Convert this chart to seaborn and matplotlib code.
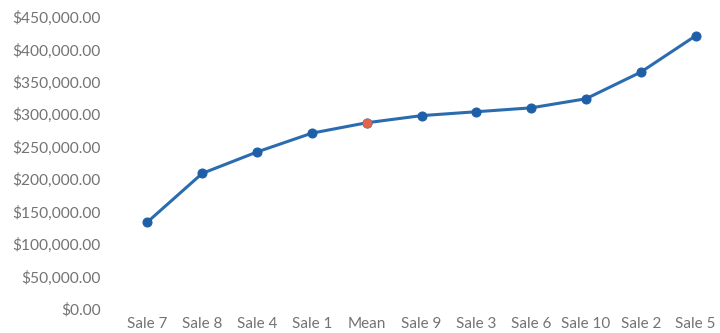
import matplotlib
matplotlib.use("Agg")
import matplotlib.pyplot as plt
import seaborn as sns
import pandas as pd
from matplotlib.ticker import FuncFormatter

labels = ["Sale 7", "Sale 8", "Sale 4", "Sale 1", "Mean", "Sale 9", "Sale 3",
          "Sale 6", "Sale 10", "Sale 2", "Sale 5"]
values = [134000, 209000, 242000, 271000, 287000, 298000, 304000,
          310000, 324000, 365000, 421000]
highlight = ["Mean"]

sns.set_theme(style="white")
plt.rcParams['font.family'] = ['Lato', 'DejaVu Sans']

df = pd.DataFrame({"label": labels, "value": values})
df["pos"] = range(len(df))

fig = plt.figure(figsize=(7.2, 3.33), dpi=100)
ax = fig.add_axes([120/720, (333-309)/333, 603/720, 292/333])

sns.lineplot(data=df, x="pos", y="value", ax=ax, color="#2b6cb0", linewidth=2.2,
             marker="o", markersize=6.5, markerfacecolor="#1f5fa8",
             markeredgecolor="#1f5fa8", sort=False)
hl = df[df["label"].isin(highlight)]
sns.scatterplot(data=hl, x="pos", y="value", ax=ax, color="#e0654a", s=42,
                edgecolor="#e0654a", zorder=5)

ax.set_xlim(-0.5, 10.5)
ax.set_ylim(0, 450000)
ax.set_yticks(range(0, 450001, 50000))
ax.yaxis.set_major_formatter(FuncFormatter(lambda v, p: f"${v:,.2f}"))
ax.set_xticks(df["pos"])
ax.set_xticklabels(labels)
ax.set_xlabel("")
ax.set_ylabel("")
for s in ax.spines.values():
    s.set_visible(False)
ax.tick_params(axis="y", length=0, pad=14, labelsize=11.2, labelcolor="#737373")
ax.tick_params(axis="x", length=0, pad=6, labelsize=11, labelcolor="#737373")
ax.grid(False)
if ax.get_legend():
    ax.get_legend().remove()

fig.savefig("out.png", dpi=100)
